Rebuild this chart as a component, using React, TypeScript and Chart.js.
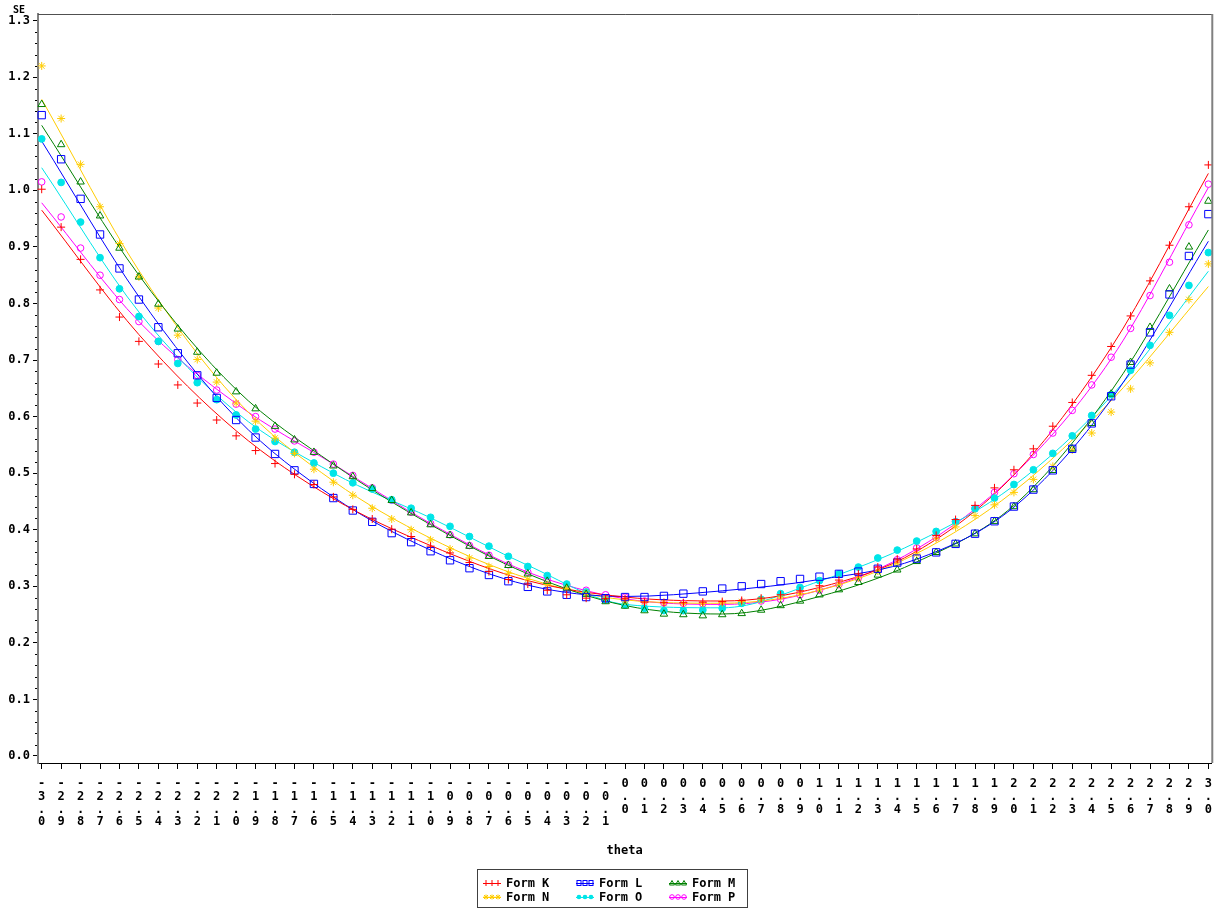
import { useEffect, useRef } from 'react';
import { Chart, registerables } from 'chart.js';

Chart.register(...registerables);

// Ability grid (theta) used for the estimates and for the x-axis ticks
const thetaValues = [
  -3.0, -2.9, -2.8, -2.7, -2.6, -2.5, -2.4, -2.3, -2.2, -2.1,
  -2.0, -1.9, -1.8, -1.7, -1.6, -1.5, -1.4, -1.3, -1.2, -1.1,
  -1.0, -0.9, -0.8, -0.7, -0.6, -0.5, -0.4, -0.3, -0.2, -0.1,
  0.0, 0.1, 0.2, 0.3, 0.4, 0.5, 0.6, 0.7, 0.8, 0.9,
  1.0, 1.1, 1.2, 1.3, 1.4, 1.5, 1.6, 1.7, 1.8, 1.9,
  2.0, 2.1, 2.2, 2.3, 2.4, 2.5, 2.6, 2.7, 2.8, 2.9, 3.0,
];

// Standard error of measurement per form
const formK = [
  1.002, 0.935, 0.878, 0.824, 0.776, 0.733, 0.693, 0.656, 0.624, 0.594,
  0.566, 0.540, 0.517, 0.498, 0.480, 0.458, 0.436, 0.419, 0.401, 0.388,
  0.371, 0.359, 0.342, 0.326, 0.312, 0.304, 0.293, 0.285, 0.279, 0.278,
  0.278, 0.272, 0.271, 0.271, 0.272, 0.273, 0.275, 0.279, 0.285, 0.292,
  0.301, 0.311, 0.322, 0.334, 0.348, 0.366, 0.390, 0.418, 0.443, 0.474,
  0.506, 0.543, 0.583, 0.625, 0.673, 0.724, 0.778, 0.840, 0.903, 0.971, 1.045,
];
const formL = [
  1.133, 1.055, 0.985, 0.922, 0.862, 0.807, 0.758, 0.712, 0.673, 0.633,
  0.594, 0.563, 0.534, 0.505, 0.481, 0.456, 0.434, 0.414, 0.394, 0.378,
  0.362, 0.346, 0.332, 0.320, 0.309, 0.299, 0.291, 0.285, 0.281, 0.279,
  0.281, 0.281, 0.283, 0.287, 0.291, 0.296, 0.300, 0.304, 0.309, 0.313,
  0.317, 0.322, 0.326, 0.331, 0.342, 0.349, 0.360, 0.375, 0.393, 0.415,
  0.441, 0.471, 0.505, 0.543, 0.588, 0.636, 0.692, 0.749, 0.816, 0.884, 0.958,
];
const formM = [
  1.152, 1.081, 1.015, 0.955, 0.898, 0.847, 0.799, 0.755, 0.714, 0.677,
  0.644, 0.614, 0.583, 0.559, 0.537, 0.513, 0.494, 0.473, 0.452, 0.430,
  0.409, 0.390, 0.371, 0.353, 0.337, 0.322, 0.309, 0.297, 0.286, 0.273,
  0.265, 0.257, 0.251, 0.250, 0.248, 0.250, 0.252, 0.258, 0.266, 0.274,
  0.285, 0.294, 0.307, 0.320, 0.329, 0.344, 0.360, 0.375, 0.393, 0.415,
  0.441, 0.471, 0.505, 0.543, 0.588, 0.640, 0.696, 0.758, 0.826, 0.900, 0.981,
];
const formN = [
  1.220, 1.127, 1.046, 0.971, 0.906, 0.847, 0.792, 0.744, 0.701, 0.661,
  0.624, 0.592, 0.562, 0.535, 0.507, 0.484, 0.461, 0.438, 0.419, 0.400,
  0.382, 0.366, 0.350, 0.335, 0.323, 0.312, 0.303, 0.296, 0.288, 0.279,
  0.274, 0.272, 0.271, 0.270, 0.270, 0.271, 0.273, 0.276, 0.281, 0.287,
  0.295, 0.304, 0.315, 0.327, 0.341, 0.357, 0.384, 0.405, 0.425, 0.444,
  0.466, 0.489, 0.512, 0.541, 0.571, 0.608, 0.649, 0.695, 0.749, 0.807, 0.870,
];
const formO = [
  1.091, 1.014, 0.944, 0.881, 0.826, 0.777, 0.733, 0.694, 0.660, 0.630,
  0.603, 0.578, 0.556, 0.537, 0.518, 0.500, 0.483, 0.472, 0.453, 0.438,
  0.422, 0.406, 0.388, 0.371, 0.353, 0.335, 0.319, 0.304, 0.290, 0.276,
  0.267, 0.261, 0.257, 0.257, 0.258, 0.261, 0.270, 0.277, 0.287, 0.298,
  0.310, 0.322, 0.334, 0.350, 0.364, 0.380, 0.397, 0.414, 0.437, 0.456,
  0.480, 0.506, 0.535, 0.566, 0.602, 0.639, 0.682, 0.726, 0.779, 0.832, 0.890,
];
const formP = [
  1.015, 0.953, 0.898, 0.850, 0.807, 0.768, 0.733, 0.701, 0.673, 0.647,
  0.622, 0.600, 0.578, 0.557, 0.537, 0.516, 0.496, 0.474, 0.452, 0.431,
  0.411, 0.391, 0.372, 0.355, 0.338, 0.325, 0.312, 0.302, 0.293, 0.285,
  0.281, 0.274, 0.271, 0.270, 0.269, 0.267, 0.272, 0.274, 0.277, 0.285,
  0.293, 0.303, 0.315, 0.330, 0.347, 0.368, 0.386, 0.414, 0.438, 0.466,
  0.499, 0.533, 0.571, 0.611, 0.656, 0.705, 0.756, 0.814, 0.873, 0.939, 1.011,
];

// Smoothed curves through each form's estimates
const fitTheta = [-3.0, -2.5, -2.0, -1.5, -1.0, -0.5, 0.0, 0.5, 1.0, 1.5, 2.0, 2.5, 3.0];
const fitK = [0.965, 0.745, 0.575, 0.455, 0.372, 0.310, 0.281, 0.274, 0.298, 0.362, 0.497, 0.722, 1.030];
const fitL = [1.087, 0.812, 0.598, 0.458, 0.364, 0.302, 0.282, 0.292, 0.312, 0.348, 0.440, 0.630, 0.910];
const fitM = [1.115, 0.850, 0.648, 0.516, 0.409, 0.322, 0.266, 0.251, 0.282, 0.343, 0.443, 0.645, 0.930];
const fitN = [1.161, 0.858, 0.630, 0.486, 0.385, 0.314, 0.276, 0.270, 0.293, 0.358, 0.468, 0.628, 0.830];
const fitO = [1.040, 0.785, 0.608, 0.500, 0.421, 0.337, 0.268, 0.262, 0.309, 0.378, 0.478, 0.636, 0.857];
const fitP = [0.978, 0.768, 0.623, 0.516, 0.411, 0.325, 0.278, 0.268, 0.293, 0.366, 0.497, 0.702, 1.005];

const yTickValues = [0.0, 0.1, 0.2, 0.3, 0.4, 0.5, 0.6, 0.7, 0.8, 0.9, 1.0, 1.1, 1.2, 1.3];

const seriesNames = ['Form K', 'Form L', 'Form M', 'Form N', 'Form O', 'Form P'];
const seriesValues = [formK, formL, formM, formN, formO, formP];
const fitValues = [fitK, fitL, fitM, fitN, fitO, fitP];

type MarkerKind = 'cross' | 'rect' | 'triangle' | 'star' | 'circle';

const seriesStyles: { color: string; marker: MarkerKind; radius: number; filled: boolean }[] = [
  { color: '#ff0000', marker: 'cross', radius: 4, filled: false },
  { color: '#0000ff', marker: 'rect', radius: 5.2, filled: false },
  { color: '#008000', marker: 'triangle', radius: 4.3, filled: false },
  { color: '#ffcc00', marker: 'star', radius: 4, filled: false },
  { color: '#00e5e8', marker: 'circle', radius: 3.4, filled: true },
  { color: '#ff00ff', marker: 'circle', radius: 3.3, filled: false },
];

const MONO = '"DejaVu Sans Mono", "Liberation Mono", monospace';

function drawLegendMarker(
  ctx: CanvasRenderingContext2D,
  kind: MarkerKind,
  x: number,
  y: number,
  color: string,
  filled: boolean,
) {
  ctx.save();
  ctx.strokeStyle = color;
  ctx.fillStyle = color;
  ctx.lineWidth = 1;
  ctx.beginPath();
  if (kind === 'cross') {
    ctx.moveTo(x, y - 3);
    ctx.lineTo(x, y + 3);
    ctx.stroke();
  } else if (kind === 'rect') {
    ctx.strokeRect(x - 2, y - 2.5, 4, 5);
  } else if (kind === 'triangle') {
    ctx.moveTo(x, y - 2.5);
    ctx.lineTo(x + 2.5, y + 2);
    ctx.lineTo(x - 2.5, y + 2);
    ctx.closePath();
    ctx.stroke();
  } else if (kind === 'star') {
    ctx.moveTo(x - 2.5, y);
    ctx.lineTo(x + 2.5, y);
    ctx.moveTo(x, y - 2.5);
    ctx.lineTo(x, y + 2.5);
    ctx.moveTo(x - 2, y - 2);
    ctx.lineTo(x + 2, y + 2);
    ctx.moveTo(x + 2, y - 2);
    ctx.lineTo(x - 2, y + 2);
    ctx.stroke();
  } else {
    ctx.arc(x, y, 2.3, 0, Math.PI * 2);
    if (filled) ctx.fill();
    else ctx.stroke();
  }
  ctx.restore();
}

const decorations = {
  id: 'decorations',
  afterDraw(chart: any) {
    const { ctx, chartArea: a, scales } = chart;
    const yScale = scales.y;
    ctx.save();

    // frame: top and right edges
    ctx.strokeStyle = '#505050';
    ctx.lineWidth = 1;
    ctx.beginPath();
    ctx.moveTo(a.left, a.top + 0.5);
    ctx.lineTo(a.right + 1, a.top + 0.5);
    ctx.stroke();
    ctx.strokeStyle = '#808080';
    ctx.lineWidth = 2;
    ctx.beginPath();
    ctx.moveTo(a.right + 1, a.top);
    ctx.lineTo(a.right + 1, a.bottom);
    ctx.stroke();

    // minor ticks on the SE axis
    ctx.strokeStyle = '#000';
    ctx.lineWidth = 1;
    for (let k = 1; k < 65; k++) {
      if (k % 5 === 0) continue;
      const py = Math.round(yScale.getPixelForValue(k * 0.02)) + 0.5;
      ctx.beginPath();
      ctx.moveTo(a.left - 3, py);
      ctx.lineTo(a.left - 1, py);
      ctx.stroke();
    }

    // axis names
    ctx.fillStyle = '#000';
    ctx.textBaseline = 'middle';
    ctx.textAlign = 'center';
    ctx.font = `bold 10px ${MONO}`;
    ctx.fillText('SE', 19, 10);
    ctx.font = `bold 12px ${MONO}`;
    ctx.fillText('theta', (a.left + a.right) / 2, 851);

    // legend box
    const box = { left: 477, top: 869, width: 270, height: 38 };
    ctx.strokeStyle = '#404040';
    ctx.lineWidth = 1;
    ctx.strokeRect(box.left + 0.5, box.top + 0.5, box.width, box.height);
    const colStarts = [483, 576, 669];
    const rowYs = [883, 897];
    ctx.textAlign = 'left';
    ctx.font = `bold 12px ${MONO}`;
    seriesNames.forEach((name, i) => {
      const s = seriesStyles[i];
      const x0 = colStarts[i % 3];
      const ry = rowYs[Math.floor(i / 3)];
      ctx.strokeStyle = s.color;
      ctx.lineWidth = 1;
      ctx.beginPath();
      ctx.moveTo(x0, ry + 0.5);
      ctx.lineTo(x0 + 18, ry + 0.5);
      ctx.stroke();
      [x0 + 3, x0 + 9, x0 + 15].forEach((mx) =>
        drawLegendMarker(ctx, s.marker, mx, ry, s.color, s.filled),
      );
      ctx.fillStyle = '#000';
      ctx.fillText(name, x0 + 23, ry + 1);
    });

    ctx.restore();
  },
};

export default function App() {
  const canvasRef = useRef<HTMLCanvasElement | null>(null);

  useEffect(() => {
    const canvas = canvasRef.current;
    if (!canvas) return;

    const datasets: any[] = [];
    seriesNames.forEach((name, i) => {
      const s = seriesStyles[i];
      datasets.push({
        label: name,
        data: thetaValues.map((t, j) => ({ x: t, y: seriesValues[i][j] })),
        showLine: false,
        pointStyle: s.marker,
        pointRadius: s.radius,
        pointBorderWidth: 1,
        pointBorderColor: s.color,
        pointBackgroundColor: s.filled ? s.color : 'rgba(0,0,0,0)',
        borderColor: s.color,
        clip: false,
      });
    });
    seriesNames.forEach((name, i) => {
      const s = seriesStyles[i];
      datasets.push({
        label: `${name} curve`,
        data: fitTheta.map((t, j) => ({ x: t, y: fitValues[i][j] })),
        pointRadius: 0,
        borderColor: s.color,
        borderWidth: 1,
        fill: false,
        cubicInterpolationMode: 'monotone',
      });
    });

    const chart = new Chart(canvas, {
      type: 'line',
      data: { datasets },
      options: {
        animation: false,
        responsive: false,
        events: [],
        layout: { padding: { top: 14, right: 5, left: 0, bottom: 0 } },
        plugins: {
          legend: { display: false },
          tooltip: { enabled: false },
        },
        scales: {
          x: {
            type: 'linear',
            min: -3.019,
            max: 3.015,
            afterBuildTicks: (scale: any) => {
              scale.ticks = thetaValues.map((v) => ({ value: v }));
            },
            afterFit: (scale: any) => {
              scale.height = 146;
            },
            grid: {
              display: true,
              drawOnChartArea: false,
              drawTicks: true,
              tickLength: 6,
              tickColor: '#000',
            },
            border: { display: true, color: '#000', width: 1 },
            ticks: {
              autoSkip: false,
              maxRotation: 0,
              minRotation: 0,
              padding: 9,
              color: '#000',
              font: { family: MONO, size: 12, weight: 'bold', lineHeight: 1.05 },
              callback: (value: any) => {
                const v = Number(value);
                const chars = Math.abs(v).toFixed(1).split('');
                return v < -1e-9 ? ['-', ...chars] : chars;
              },
            },
          },
          y: {
            type: 'linear',
            min: -0.0124,
            max: 1.3118,
            afterBuildTicks: (scale: any) => {
              scale.ticks = yTickValues.map((v) => ({ value: v }));
            },
            afterFit: (scale: any) => {
              scale.width = 38;
            },
            grid: {
              display: true,
              drawOnChartArea: false,
              drawTicks: true,
              tickLength: 5,
              tickColor: '#000',
            },
            border: { display: true, color: '#808080', width: 2 },
            ticks: {
              padding: 3,
              color: '#000',
              font: { family: MONO, size: 12, weight: 'bold' },
              callback: (value: any) => Number(value).toFixed(1),
            },
          },
        },
      } as any,
      plugins: [decorations],
    });

    return () => chart.destroy();
  }, []);

  return (
    <div style={{ position: 'fixed', left: 0, top: 0, width: 1221, height: 909, background: '#fff' }}>
      <canvas ref={canvasRef} width={1221} height={909} style={{ display: 'block' }} />
    </div>
  );
}
